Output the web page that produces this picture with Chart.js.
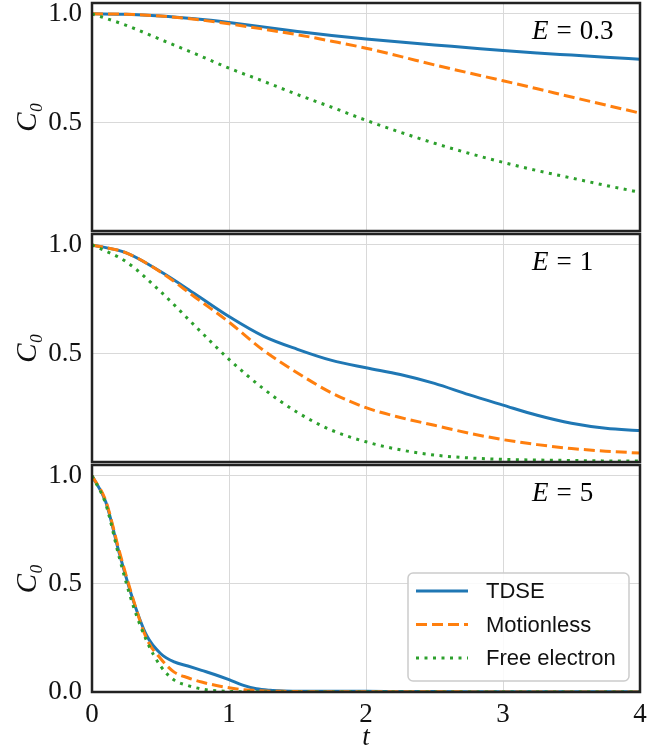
<!DOCTYPE html>
<html>
<head>
<meta charset="utf-8">
<script src="https://cdn.jsdelivr.net/npm/chart.js@4.4.1/dist/chart.umd.min.js"></script>
<style>
  body { margin: 0; background: #fff; }
  .panel { position: absolute; left: 0; width: 668px; }
</style>
</head>
<body>
<div class="panel" style="top:0;height:240px"><canvas id="c1"></canvas></div>
<div class="panel" style="top:230px;height:240px"><canvas id="c2"></canvas></div>
<div class="panel" style="top:460px;height:290px"><canvas id="c3"></canvas></div>
<script>
// time grids
const tGrid = [0, 0.25, 0.5, 0.75, 1, 1.25, 1.5, 1.75, 2, 2.25, 2.5, 2.75, 3, 3.25, 3.5, 3.75, 4];
const tFine = [0, 0.1, 0.2, 0.3, 0.4, 0.5, 0.6, 0.7, 0.8, 0.9, 1.0, 1.1, 1.2, 1.3, 1.4, 1.5, 2, 2.5, 3, 3.5, 4];

// E = 0.3
const tdseE03 = [1.0, 0.998, 0.99, 0.977, 0.96, 0.94, 0.919, 0.9, 0.884, 0.87, 0.857, 0.844, 0.831, 0.82, 0.81, 0.8, 0.791];
const motionlessE03 = [1.0, 0.998, 0.99, 0.975, 0.954, 0.93, 0.904, 0.874, 0.842, 0.804, 0.765, 0.728, 0.692, 0.655, 0.617, 0.58, 0.543];
const freeE03 = [1.0, 0.947, 0.882, 0.817, 0.75, 0.69, 0.628, 0.57, 0.51, 0.455, 0.404, 0.358, 0.316, 0.278, 0.244, 0.21, 0.178];

// E = 1
const tdseE1 = [1.0, 0.963, 0.877, 0.775, 0.67, 0.58, 0.519, 0.468, 0.434, 0.403, 0.362, 0.31, 0.262, 0.215, 0.178, 0.155, 0.145];
const motionlessE1 = [1.0, 0.963, 0.875, 0.76, 0.644, 0.515, 0.41, 0.318, 0.25, 0.205, 0.169, 0.133, 0.103, 0.08, 0.062, 0.05, 0.041];
const freeE1 = [1.0, 0.922, 0.785, 0.628, 0.473, 0.338, 0.228, 0.146, 0.093, 0.056, 0.032, 0.019, 0.012, 0.009, 0.007, 0.005, 0.004];

// E = 5
const tdseE5 = [1.0, 0.88, 0.64, 0.425, 0.26, 0.178, 0.139, 0.12, 0.1, 0.08, 0.057, 0.032, 0.015, 0.008, 0.005, 0.004, 0.003, 0.002, 0.001, 0.001, 0.001];
const motionlessE5 = [1.0, 0.885, 0.65, 0.43, 0.245, 0.155, 0.092, 0.066, 0.046, 0.031, 0.02, 0.011, 0.007, 0.004, 0.003, 0.002, 0.001, 0.001, 0, 0, 0];
const freeE5 = [1.0, 0.87, 0.62, 0.40, 0.235, 0.12, 0.055, 0.03, 0.014, 0.006, 0.003, 0.001, 0.001, 0, 0, 0, 0, 0, 0, 0, 0];

const seriesNames = ['TDSE', 'Motionless', 'Free electron'];
const energies = ['0.3', '1', '5'];
const xTicks = [0, 1, 2, 3, 4];
const yTicksTop = [0.5, 1.0];
const yTicksBottom = [0, 0.5, 1.0];

const colors = ['#1f77b4', '#ff7f0e', '#2ca02c'];
const dashes = [[], [11, 5], [3, 5.5]];
const serif = '"Liberation Serif", "DejaVu Serif", serif';
const sans = '"Liberation Sans", Arial, sans-serif';

function makeDatasets(t, lists) {
    return lists.map(function(vals, i) {
        return {
            label: seriesNames[i],
            data: t.map(function(x, j) { return { x: x, y: vals[j] }; }),
            borderColor: colors[i],
            borderWidth: 3,
            borderDash: dashes[i],
            pointRadius: 0,
            fill: false,
            cubicInterpolationMode: 'monotone'
        };
    }).reverse();
}

const framePlugin = {
    id: 'frame',
    afterDatasetsDraw: function(chart, args, opts) {
        const a = chart.chartArea;
        const ctx = chart.ctx;
        ctx.save();
        ctx.strokeStyle = '#222222';
        ctx.lineWidth = 2.5;
        ctx.strokeRect(a.left, a.top, a.right - a.left, a.bottom - a.top);

        // energy label
        ctx.fillStyle = '#000';
        ctx.textBaseline = 'alphabetic';
        ctx.textAlign = 'left';
        let x = 532;
        const y = a.top + 36;
        ctx.font = 'italic 27px ' + serif;
        ctx.fillText('E', x, y);
        x += ctx.measureText('E').width + 8;
        ctx.font = '27px ' + serif;
        ctx.fillText('=', x, y);
        x += ctx.measureText('=').width + 8;
        ctx.fillText(opts.energy, x, y);

        if (opts.legend) {
            const bx = 408, by = a.top + 108, bw = 221, bh = 108;
            ctx.beginPath();
            ctx.roundRect(bx, by, bw, bh, 5);
            ctx.fillStyle = 'rgba(255,255,255,0.85)';
            ctx.fill();
            ctx.strokeStyle = '#cccccc';
            ctx.lineWidth = 1.5;
            ctx.stroke();
            const rows = [by + 18, by + 51.5, by + 85];
            for (let i = 0; i < 3; i++) {
                ctx.beginPath();
                ctx.setLineDash(dashes[i]);
                ctx.strokeStyle = colors[i];
                ctx.lineWidth = 3;
                ctx.moveTo(416, rows[i]);
                ctx.lineTo(468, rows[i]);
                ctx.stroke();
                ctx.setLineDash([]);
                ctx.fillStyle = '#111';
                ctx.font = '22px ' + sans;
                ctx.textBaseline = 'middle';
                ctx.fillText(seriesNames[i], 486, rows[i] + 1);
            }
        }
        ctx.restore();
    }
};

function makePanel(id, t, lists, energy, isBottom, padding) {
    const ctx = document.getElementById(id).getContext('2d');
    const yTicks = isBottom ? yTicksBottom : yTicksTop;
    return new Chart(ctx, {
        type: 'line',
        data: { datasets: makeDatasets(t, lists) },
        plugins: [framePlugin],
        options: {
            responsive: true,
            maintainAspectRatio: false,
            animation: false,
            layout: { padding: padding },
            plugins: {
                legend: { display: false },
                tooltip: { enabled: false },
                frame: { energy: energy, legend: isBottom }
            },
            scales: {
                x: {
                    type: 'linear',
                    min: 0,
                    max: 4,
                    afterBuildTicks: function(axis) {
                        axis.ticks = xTicks.map(function(v) { return { value: v }; });
                    },
                    afterFit: function(scale) {
                        scale.height = isBottom ? 58 : 0;
                        scale.paddingLeft = 0;
                        scale.paddingRight = 0;
                    },
                    border: { display: false },
                    grid: { color: '#d9d9d9', lineWidth: 1, drawTicks: false },
                    ticks: {
                        display: isBottom,
                        padding: 7,
                        color: '#111',
                        font: { family: serif, size: 27 },
                        maxRotation: 0
                    },
                    title: {
                        display: isBottom,
                        text: 't',
                        color: '#111',
                        font: { family: serif, size: 27, style: 'italic', lineHeight: 0.9 },
                        padding: { top: 0, bottom: 0 }
                    }
                },
                y: {
                    min: 0,
                    max: 1.05,
                    afterBuildTicks: function(axis) {
                        axis.ticks = yTicks.map(function(v) { return { value: v }; });
                    },
                    afterFit: function(scale) {
                        scale.width = 92;
                        scale.paddingTop = 0;
                        scale.paddingBottom = 0;
                    },
                    border: { display: false },
                    grid: { color: '#d9d9d9', lineWidth: 1, drawTicks: false },
                    ticks: {
                        padding: 10,
                        color: '#111',
                        font: { family: serif, size: 27 },
                        callback: function(value) { return value.toFixed(1); }
                    },
                    title: {
                        display: true,
                        text: 'C₀',
                        color: '#111',
                        font: { family: serif, size: 29, style: 'italic' },
                        padding: { top: 11, bottom: 0 }
                    }
                }
            }
        }
    });
}

makePanel('c1', tGrid, [tdseE03, motionlessE03, freeE03], energies[0], false, { left: 0, right: 28, top: 3, bottom: 9 });
makePanel('c2', tGrid, [tdseE1, motionlessE1, freeE1], energies[1], false, { left: 0, right: 28, top: 4, bottom: 8 });
makePanel('c3', tFine, [tdseE5, motionlessE5, freeE5], energies[2], true, { left: 0, right: 28, top: 5, bottom: 0 });
</script>
</body>
</html>
